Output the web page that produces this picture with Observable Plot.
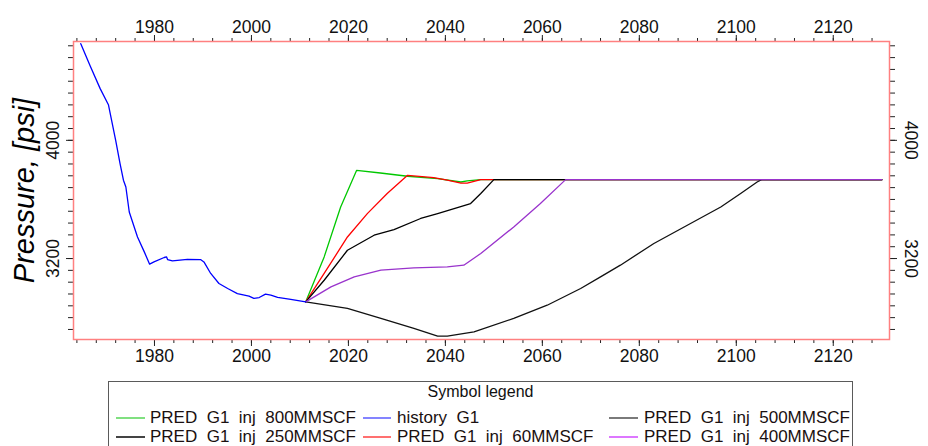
<!DOCTYPE html>
<html>
<head>
<meta charset="utf-8">
<script src="https://cdn.jsdelivr.net/npm/d3@7"></script>
<script src="https://cdn.jsdelivr.net/npm/@observablehq/plot@0.6"></script>
<style>
  html, body { margin: 0; padding: 0; background: #fff; overflow: hidden; }
  #wrap { position: relative; width: 928px; height: 446px; overflow: hidden; font-family: "Liberation Sans", Arial, sans-serif; }
  #chart svg { display: block; }
  #legend { position: absolute; left: 108px; top: 381px; width: 745px; height: 100px; border: 1px solid #5a5a5a; box-sizing: border-box; }
  .lg-title { position: absolute; left: 0; width: 100%; text-align: center; top: 1px; font-size: 16px; color: #111; }
  .lg-line { position: absolute; height: 2px; }
  .lg-text { position: absolute; font-size: 17px; white-space: pre; color: #1a1010; line-height: 19px; }
</style>
</head>
<body>
<div id="wrap">
  <div id="chart"></div>
  <div id="legend"></div>
</div>
<script>
// ---- data ----
const historyYears = [1964.8, 1966.7, 1968.8, 1970.5, 1972.0, 1972.9, 1973.6, 1974.1, 1974.8, 1976.5, 1977.9, 1979.0, 1979.9, 1982.0, 1982.5, 1982.7, 1983.7, 1986.8, 1989.5, 1990.2, 1991.6, 1993.3, 1995.1, 1997.1, 1999.5, 2000.5, 2001.6, 2002.9, 2004.0, 2005.4, 2008.1, 2011.2];
const historyPsi   = [4654, 4507, 4350, 4241, 4000, 3842, 3730, 3684, 3515, 3346, 3245, 3162, 3177, 3207, 3211, 3193, 3184, 3195, 3193, 3177, 3099, 3031, 2997, 2963, 2945, 2930, 2936, 2959, 2952, 2937, 2923, 2907];

const inj800Years = [2011.2, 2015.0, 2018.4, 2021.7, 2026.6, 2032.2, 2038.4, 2043.2, 2044.5, 2047.3, 2130];
const inj800Psi   = [2907, 3211, 3549, 3797, 3779, 3757, 3741, 3718, 3725, 3734, 3734];

const inj60Years = [2011.2, 2015.0, 2019.8, 2023.9, 2028.0, 2032.2, 2037.6, 2040.4, 2043.2, 2044.5, 2047.3, 2130];
const inj60Psi   = [2907, 3099, 3346, 3504, 3640, 3763, 3748, 3730, 3711, 3711, 3734, 3734];

const inj500Years = [2011.2, 2015.0, 2019.8, 2025.3, 2029.4, 2034.9, 2038.4, 2041.8, 2045.2, 2047.3, 2050.0, 2130];
const inj500Psi   = [2907, 3053, 3256, 3358, 3396, 3471, 3504, 3538, 3572, 3640, 3734, 3734];

const inj250Years = [2011.2, 2019.8, 2026.7, 2033.5, 2038.4, 2040.4, 2045.9, 2054.1, 2061.0, 2067.9, 2072.0, 2076.1, 2083.0, 2089.9, 2096.8, 2100.9, 2104.3, 2105.2, 2130];
const inj250Psi   = [2907, 2862, 2795, 2727, 2675, 2675, 2704, 2795, 2884, 2997, 3076, 3155, 3302, 3425, 3549, 3640, 3718, 3734, 3734];

const inj400Years = [2011.2, 2016.4, 2021.2, 2026.7, 2033.5, 2040.4, 2043.8, 2047.3, 2054.1, 2059.6, 2064.8, 2130];
const inj400Psi   = [2907, 3008, 3076, 3121, 3137, 3143, 3155, 3234, 3414, 3572, 3734, 3734];

const xLabelTicks = [1980, 2000, 2020, 2040, 2060, 2080, 2100, 2120];
const yLabelTicks = [3200, 4000];

const legendNames = ["PRED  G1  inj  800MMSCF", "history  G1", "PRED  G1  inj  500MMSCF",
                     "PRED  G1  inj  250MMSCF", "PRED  G1  inj  60MMSCF", "PRED  G1  inj  400MMSCF"];
const legendColors = ["#80e080", "#8484ff", "#7a7a7a", "#444444", "#ff7070", "#dd77ff"];

// ---- build tables ----
const toRows = (ys, ps) => ys.map((y, i) => ({year: y, psi: ps[i]}));
const series = [
  {rows: toRows(inj800Years, inj800Psi), color: "#00c800"},
  {rows: toRows(inj60Years, inj60Psi), color: "#ff0000"},
  {rows: toRows(inj500Years, inj500Psi), color: "#000000"},
  {rows: toRows(inj250Years, inj250Psi), color: "#111111"},
  {rows: toRows(inj400Years, inj400Psi), color: "#9933cc"},
  {rows: toRows(historyYears, historyPsi), color: "#0000ff"}
];

const minorX = d3.range(1964, 2130, 4);
const minorY = d3.range(2720, 4669, 80);

const lineMarks = series.map(s => Plot.line(s.rows, {x: "year", y: "psi", stroke: s.color, strokeWidth: 1.3}));
const blank = () => "";

const chart = Plot.plot({
  width: 928,
  height: 382,
  marginLeft: 73,
  marginRight: 39,
  marginTop: 41,
  marginBottom: 43,
  style: {fontFamily: "Liberation Sans, Arial, sans-serif", color: "#222", background: "#fff"},
  x: {domain: [1963.3, 2131.6], label: null},
  y: {domain: [2652, 4669], label: null},
  marks: [
    Plot.axisX({anchor: "top", ticks: minorX, tickSize: 4, tickFormat: blank, label: null}),
    Plot.axisX({anchor: "bottom", ticks: minorX, tickSize: 4, tickFormat: blank, label: null}),
    Plot.axisX({anchor: "top", ticks: xLabelTicks, tickSize: 7, tickFormat: blank, label: null}),
    Plot.axisX({anchor: "bottom", ticks: xLabelTicks, tickSize: 7, tickFormat: blank, label: null}),
    Plot.axisY({anchor: "left", ticks: minorY, tickSize: 5, tickFormat: blank, label: null}),
    Plot.axisY({anchor: "right", ticks: minorY, tickSize: 5, tickFormat: blank, label: null}),
    Plot.axisY({anchor: "left", ticks: yLabelTicks, tickSize: 7, tickFormat: blank, label: null}),
    Plot.axisY({anchor: "right", ticks: yLabelTicks, tickSize: 7, tickFormat: blank, label: null}),
    Plot.text(xLabelTicks, {x: d => d, frameAnchor: "top", dy: -21, text: d => String(d), fontSize: 17.5, fill: "#111"}),
    Plot.text(xLabelTicks, {x: d => d, frameAnchor: "bottom", dy: 22, text: d => String(d), fontSize: 17.5, fill: "#111"}),
    Plot.text(yLabelTicks, {y: d => d, frameAnchor: "left", dx: -20, rotate: -90, textAnchor: "middle", text: d => String(d), fontSize: 17.5, fill: "#111"}),
    Plot.text(yLabelTicks, {y: d => d, frameAnchor: "right", dx: 21, rotate: 90, textAnchor: "middle", text: d => String(d), fontSize: 17.5, fill: "#111"}),
    Plot.text(["Pressure, [psi]"], {frameAnchor: "left", dx: -49, rotate: -90, textAnchor: "middle", text: d => d, fontSize: 29, fontStyle: "italic", fill: "#000"}),
    ...lineMarks,
    Plot.frame({stroke: "#ff8080", strokeWidth: 1.5})
  ]
});
document.getElementById("chart").appendChild(chart);

// ---- legend ----
const legend = document.getElementById("legend");
const title = document.createElement("div");
title.className = "lg-title";
title.textContent = "Symbol legend";
legend.appendChild(title);
const colLine = [[7, 36], [254, 282], [500, 529]];
const colText = [41, 288, 535];
const rowY = [36, 55];
legendNames.forEach((name, i) => {
  const col = i % 3, row = Math.floor(i / 3);
  const ln = document.createElement("div");
  ln.className = "lg-line";
  ln.style.left = colLine[col][0] + "px";
  ln.style.width = (colLine[col][1] - colLine[col][0]) + "px";
  ln.style.top = (rowY[row] - 1) + "px";
  ln.style.background = legendColors[i];
  legend.appendChild(ln);
  const tx = document.createElement("div");
  tx.className = "lg-text";
  tx.style.left = colText[col] + "px";
  tx.style.top = (rowY[row] - 10) + "px";
  tx.textContent = name;
  legend.appendChild(tx);
});
</script>
</body>
</html>
